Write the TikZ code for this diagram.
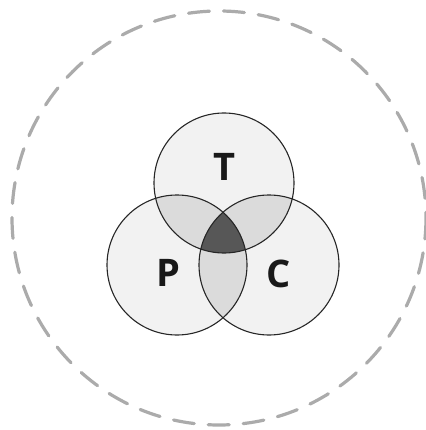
\documentclass[tikz,border=0pt]{standalone}
\usepackage{fontspec}
\setmainfont{Open Sans}
\begin{document}
\begin{tikzpicture}[x=1pt,y=-1pt,
  ring/.style={draw=black!85,line width=1.1pt},
  lbl/.style={font=\fontsize{38}{40}\selectfont\bfseries,text=black!90},
  outer/.style={draw=black!33,line width=3.2pt,line cap=round,dash pattern=on 21pt off 14pt}]
\useasboundingbox (0,0) rectangle (425,430);
\def\r{70}
\coordinate (t) at (224,183);
\coordinate (p) at (177,265);
\coordinate (c) at (269,265);
\coordinate (o) at (219,218);
% outer dashed circle
\draw[outer] (o) circle (207);
% single fills
\fill[black!5] (t) circle (\r) (p) circle (\r) (c) circle (\r);
% pairwise fills
\begin{scope}\clip (t) circle (\r); \fill[black!14] (p) circle (\r) (c) circle (\r);\end{scope}
\begin{scope}\clip (p) circle (\r); \fill[black!14] (c) circle (\r);\end{scope}
% triple
\begin{scope}\clip (t) circle (\r); \clip (p) circle (\r); \fill[black!66] (c) circle (\r);\end{scope}
% outlines
\draw[ring] (t) circle (\r);
\draw[ring] (p) circle (\r);
\draw[ring] (c) circle (\r);
\node[lbl] (T) at (224,167) {T};
\node[lbl] (P) at (168,273) {P};
\node[lbl] (C) at (279,274) {C};
\end{tikzpicture}
\end{document}
